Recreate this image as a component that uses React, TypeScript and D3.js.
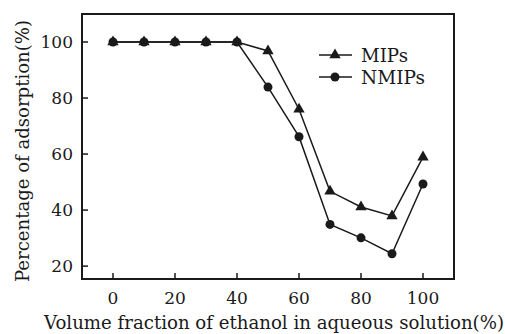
import React from 'react';
import * as d3 from 'd3';

const ethanol = [0, 10, 20, 30, 40, 50, 60, 70, 80, 90, 100];
const mips = [100, 100, 100, 100, 100, 96.8, 76, 46.7, 41.1, 37.9, 58.9];
const nmips = [100, 100, 100, 100, 100, 83.9, 66.2, 34.9, 30.1, 24.4, 49.3];
const xTicks = [0, 20, 40, 60, 80, 100];
const yTicks = [20, 40, 60, 80, 100];

const W = 505, H = 334;
const left = 82, right = 454, top = 14, bottom = 279;
const ink = '#1a1a1a';
const font = '"DejaVu Serif", serif';

const x = d3.scaleLinear().domain([-10, 110]).range([left, right]);
const y = d3.scaleLinear().domain([15.4, 110]).range([bottom, top]);

const line = d3.line<number>().x((_, i) => x(ethanol[i])).y(d => y(d));
const tri = d3.symbol(d3.symbolTriangle, 56)();

export default function App() {
  return (
    <svg width={W} height={H} style={{ position: 'absolute', left: 0, top: 0, background: '#fff' }}>
      <rect x={left} y={top} width={right - left} height={bottom - top} fill="none" stroke={ink} strokeWidth={2} />
      {yTicks.map(t => (
        <g key={'y' + t}>
          <line x1={left} x2={left + 6} y1={y(t)} y2={y(t)} stroke={ink} strokeWidth={1.5} />
          <text x={73} y={y(t)} dy="0.36em" textAnchor="end" fontFamily={font} fontSize={17} fill={ink}>{t}</text>
        </g>
      ))}
      {xTicks.map(t => (
        <g key={'x' + t}>
          <line x1={x(t)} x2={x(t)} y1={bottom} y2={bottom - 6} stroke={ink} strokeWidth={1.5} />
          <text x={x(t)} y={304} textAnchor="middle" fontFamily={font} fontSize={17} fill={ink}>{t}</text>
        </g>
      ))}
      <text x={44} y={329} textLength={460} lengthAdjust="spacingAndGlyphs" fontFamily={font} fontSize={18} fill={ink}>
        Volume fraction of ethanol in aqueous solution(%)
      </text>
      <text transform={`translate(29,151) rotate(-90)`} textAnchor="middle" textLength={262} lengthAdjust="spacingAndGlyphs" fontFamily={font} fontSize={18} fill={ink}>
        Percentage of adsorption(%)
      </text>

      <path d={line(nmips) || ''} fill="none" stroke={ink} strokeWidth={1.5} />
      <path d={line(mips) || ''} fill="none" stroke={ink} strokeWidth={1.5} />
      {nmips.map((v, i) => (
        <circle key={'c' + i} cx={x(ethanol[i])} cy={y(v)} r={4.5} fill={ink} />
      ))}
      {mips.map((v, i) => (
        <path key={'t' + i} d={tri || ''} transform={`translate(${x(ethanol[i])},${y(v)})`} fill={ink} />
      ))}

      <g>
        <line x1={319} x2={352} y1={55} y2={55} stroke={ink} strokeWidth={1.5} />
        <path d={tri || ''} transform="translate(335,55)" fill={ink} />
        <text x={361} y={55} dy="0.36em" textLength={47} lengthAdjust="spacingAndGlyphs" fontFamily={font} fontSize={19} fill={ink}>MIPs</text>
        <line x1={319} x2={352} y1={77} y2={77} stroke={ink} strokeWidth={1.5} />
        <circle cx={335} cy={77} r={4.5} fill={ink} />
        <text x={361} y={77} dy="0.36em" textLength={64} lengthAdjust="spacingAndGlyphs" fontFamily={font} fontSize={19} fill={ink}>NMIPs</text>
      </g>
    </svg>
  );
}
